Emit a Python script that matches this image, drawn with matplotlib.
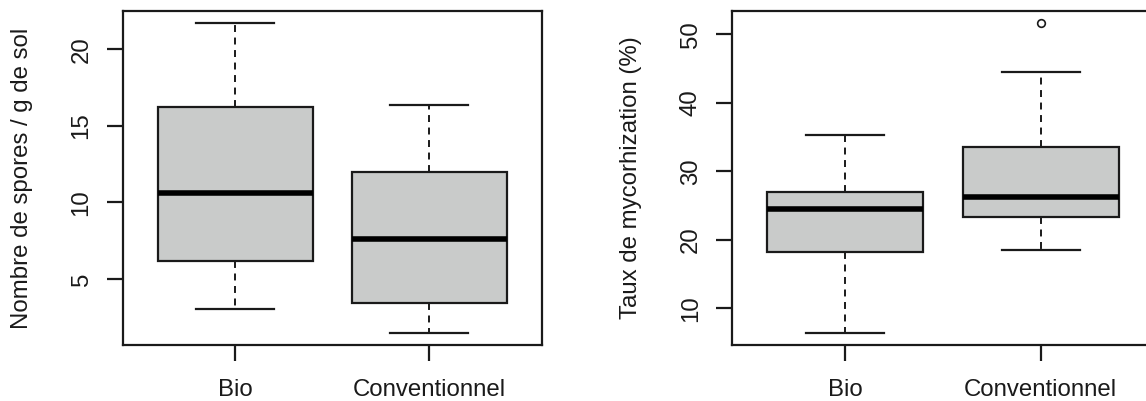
import matplotlib
matplotlib.use('Agg')
import matplotlib.pyplot as plt

plt.rcParams['font.family'] = ['Liberation Sans', 'DejaVu Sans']
plt.rcParams['lines.scale_dashes'] = False

categories = ['Bio', 'Conventionnel']

# five-number summaries: lower whisker, Q1, median, Q3, upper whisker
spores_bio = [3.04, 6.17, 10.61, 16.24, 21.72]
spores_conv = [1.48, 3.43, 7.61, 12.02, 16.35]
spores_fliers = [[], []]

myco_bio = [6.40, 18.17, 24.54, 26.92, 35.33]
myco_conv = [18.46, 23.37, 26.29, 33.62, 44.46]
myco_fliers = [[], [51.66]]

spores_ticks = [5, 10, 15, 20]
myco_ticks = [10, 20, 30, 40, 50]

spores_label = 'Nombre de spores / g de sol'
myco_label = 'Taux de mycorhization (%)'

FILL = '#C9CBCA'
INK = '#1a1a1a'
FS = 17.3


def make_stats(summaries, fliers):
    out = []
    for (lo, q1, med, q3, hi), fl in zip(summaries, fliers):
        out.append(dict(whislo=lo, q1=q1, med=med, q3=q3, whishi=hi, fliers=fl))
    return out


def draw(ax, summaries, fliers, ticks, ylabel, width_px):
    stats = make_stats(summaries, fliers)
    ax.bxp(stats, positions=[1, 2], widths=0.8, patch_artist=True,
           boxprops=dict(facecolor=FILL, edgecolor=INK, linewidth=1.6),
           medianprops=dict(color='black', linewidth=4.0, solid_capstyle='butt'),
           whiskerprops=dict(color=INK, linewidth=1.4, linestyle=(0, (5.0, 4.0))),
           capprops=dict(color=INK, linewidth=1.6),
           capwidths=0.4,
           flierprops=dict(marker='o', markersize=5.5, markerfacecolor='none',
                           markeredgecolor=INK, markeredgewidth=1.2),
           showfliers=True)
    vals = [v for s in summaries for v in s] + [v for f in fliers for v in f]
    lo, hi = min(vals), max(vals)
    pad = 0.04 * (hi - lo)
    ax.set_ylim(lo - pad, hi + pad)
    ax.set_xlim(0.42, 2.58)
    ax.set_xticks([1, 2])
    ax.set_xticklabels(categories)
    ax.set_yticks(ticks)
    ax.set_yticklabels([str(t) for t in ticks], rotation=90, va='center')
    for sp in ax.spines.values():
        sp.set_linewidth(1.6)
        sp.set_color(INK)
    ax.tick_params(axis='both', length=11.2, width=1.6, color=INK,
                   labelsize=FS, labelcolor=INK)
    ax.tick_params(axis='x', pad=13)
    ax.tick_params(axis='y', pad=10.5)
    ax.set_ylabel(ylabel, fontsize=FS, color=INK)
    ax.yaxis.set_label_coords(-101.0 / width_px, 0.5)
    ax.yaxis.label.set_va('center')


fig = plt.figure(figsize=(11.46, 4.01), dpi=100)
ax1 = fig.add_axes([122.7 / 1146, 55.7 / 401, 419 / 1146, 334.6 / 401])
ax2 = fig.add_axes([732 / 1146, 55.7 / 401, 422 / 1146, 334.6 / 401])

draw(ax1, [spores_bio, spores_conv], spores_fliers, spores_ticks, spores_label, 419)
draw(ax2, [myco_bio, myco_conv], myco_fliers, myco_ticks, myco_label, 422)

fig.savefig('out.png', dpi=100)
